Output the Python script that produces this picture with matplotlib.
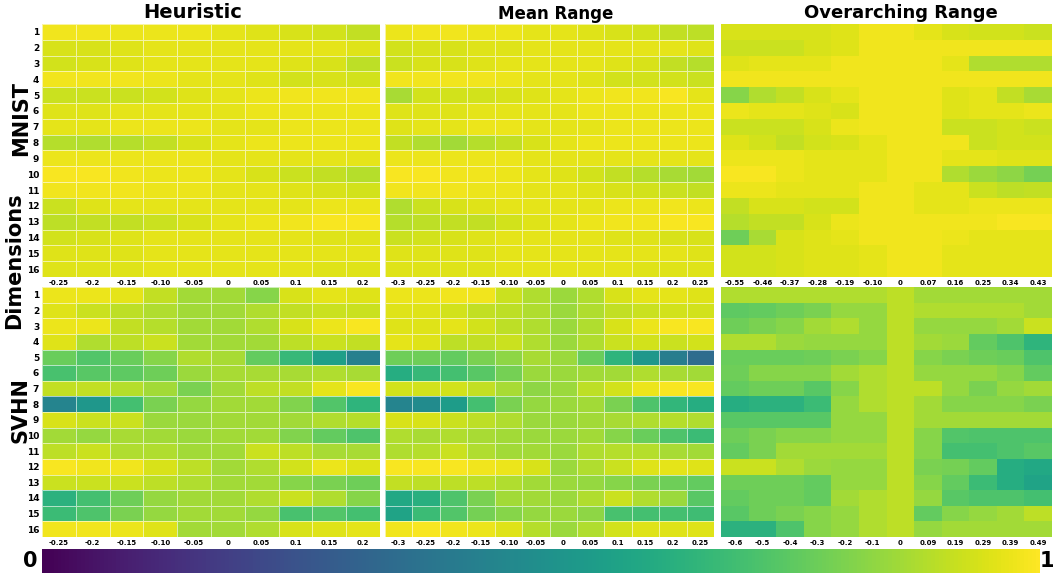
import numpy as np
import matplotlib
matplotlib.use("Agg")
import matplotlib.pyplot as plt

# ==============================
# DATA
# ==============================
dims = [str(i) for i in range(1, 17)]

heur_cols = ["-0.25", "-0.2", "-0.15", "-0.10", "-0.05", "0", "0.05", "0.1", "0.15", "0.2"]
mean_cols = ["-0.3", "-0.25", "-0.2", "-0.15", "-0.10", "-0.05", "0", "0.05", "0.1", "0.15", "0.2", "0.25"]
over_cols_mnist = ["-0.55", "-0.46", "-0.37", "-0.28", "-0.19", "-0.10", "0", "0.07", "0.16", "0.25", "0.34", "0.43"]
over_cols_svhn = ["-0.6", "-0.5", "-0.4", "-0.3", "-0.2", "-0.1", "0", "0.09", "0.19", "0.29", "0.39", "0.49"]

mnist_heuristic = [
    [0.98, 0.98, 0.97, 0.97, 0.97, 0.96, 0.95, 0.94, 0.93, 0.91],
    [0.94, 0.94, 0.95, 0.96, 0.96, 0.96, 0.96, 0.96, 0.96, 0.95],
    [0.93, 0.94, 0.95, 0.96, 0.96, 0.96, 0.96, 0.95, 0.94, 0.90],
    [0.98, 0.98, 0.98, 0.97, 0.96, 0.96, 0.95, 0.93, 0.94, 0.93],
    [0.92, 0.92, 0.92, 0.93, 0.95, 0.96, 0.97, 0.98, 0.98, 0.98],
    [0.95, 0.95, 0.96, 0.96, 0.96, 0.96, 0.97, 0.97, 0.97, 0.97],
    [0.96, 0.96, 0.97, 0.97, 0.97, 0.96, 0.96, 0.97, 0.97, 0.97],
    [0.89, 0.88, 0.89, 0.91, 0.94, 0.96, 0.97, 0.97, 0.97, 0.97],
    [0.97, 0.97, 0.97, 0.97, 0.97, 0.96, 0.96, 0.96, 0.96, 0.96],
    [0.99, 0.99, 0.98, 0.97, 0.97, 0.96, 0.94, 0.92, 0.91, 0.89],
    [0.98, 0.98, 0.98, 0.97, 0.97, 0.96, 0.96, 0.95, 0.94, 0.93],
    [0.92, 0.95, 0.96, 0.96, 0.96, 0.96, 0.96, 0.96, 0.97, 0.97],
    [0.90, 0.91, 0.91, 0.92, 0.94, 0.96, 0.97, 0.98, 0.99, 0.99],
    [0.93, 0.94, 0.95, 0.96, 0.96, 0.96, 0.96, 0.96, 0.95, 0.95],
    [0.95, 0.95, 0.95, 0.96, 0.96, 0.96, 0.96, 0.96, 0.96, 0.96],
    [0.95, 0.95, 0.95, 0.96, 0.96, 0.96, 0.96, 0.96, 0.95, 0.95],
]

mnist_mean = [
    [0.97, 0.98, 0.98, 0.97, 0.97, 0.96, 0.96, 0.95, 0.94, 0.93, 0.91, 0.90],
    [0.93, 0.94, 0.94, 0.95, 0.95, 0.96, 0.96, 0.96, 0.96, 0.96, 0.96, 0.95],
    [0.92, 0.94, 0.94, 0.95, 0.96, 0.96, 0.96, 0.96, 0.95, 0.94, 0.91, 0.89],
    [0.98, 0.98, 0.98, 0.98, 0.97, 0.96, 0.96, 0.95, 0.93, 0.93, 0.93, 0.92],
    [0.87, 0.93, 0.93, 0.93, 0.94, 0.95, 0.96, 0.97, 0.98, 0.98, 0.99, 0.96],
    [0.95, 0.95, 0.95, 0.96, 0.96, 0.96, 0.96, 0.97, 0.97, 0.97, 0.97, 0.97],
    [0.95, 0.96, 0.96, 0.97, 0.97, 0.96, 0.96, 0.96, 0.97, 0.97, 0.97, 0.97],
    [0.91, 0.88, 0.86, 0.89, 0.91, 0.94, 0.96, 0.97, 0.97, 0.97, 0.97, 0.97],
    [0.97, 0.97, 0.97, 0.97, 0.97, 0.96, 0.96, 0.96, 0.96, 0.96, 0.96, 0.96],
    [0.99, 0.99, 0.98, 0.98, 0.97, 0.96, 0.95, 0.93, 0.91, 0.89, 0.87, 0.86],
    [0.98, 0.98, 0.98, 0.97, 0.97, 0.96, 0.96, 0.95, 0.94, 0.93, 0.92, 0.91],
    [0.88, 0.92, 0.94, 0.95, 0.96, 0.96, 0.96, 0.96, 0.97, 0.97, 0.98, 0.97],
    [0.89, 0.90, 0.91, 0.91, 0.93, 0.95, 0.96, 0.97, 0.98, 0.98, 0.99, 0.99],
    [0.92, 0.93, 0.94, 0.95, 0.96, 0.96, 0.96, 0.96, 0.95, 0.95, 0.94, 0.94],
    [0.95, 0.95, 0.95, 0.95, 0.96, 0.96, 0.96, 0.96, 0.96, 0.96, 0.96, 0.95],
    [0.95, 0.95, 0.95, 0.95, 0.96, 0.96, 0.96, 0.96, 0.96, 0.95, 0.95, 0.95],
]

mnist_over = [
    [0.94, 0.94, 0.94, 0.94, 0.95, 0.98, 0.98, 0.96, 0.94, 0.93, 0.93, 0.92],
    [0.92, 0.92, 0.92, 0.94, 0.95, 0.98, 0.98, 0.98, 0.98, 0.98, 0.98, 0.98],
    [0.95, 0.96, 0.96, 0.96, 0.98, 0.98, 0.98, 0.98, 0.96, 0.88, 0.88, 0.88],
    [0.98, 0.98, 0.98, 0.98, 0.98, 0.98, 0.98, 0.98, 0.98, 0.98, 0.98, 0.98],
    [0.82, 0.88, 0.91, 0.94, 0.96, 0.98, 0.98, 0.98, 0.95, 0.96, 0.91, 0.87],
    [0.97, 0.96, 0.96, 0.95, 0.94, 0.98, 0.98, 0.98, 0.95, 0.96, 0.96, 0.97],
    [0.92, 0.92, 0.92, 0.94, 0.97, 0.98, 0.98, 0.98, 0.92, 0.92, 0.93, 0.92],
    [0.95, 0.93, 0.91, 0.93, 0.94, 0.96, 0.98, 0.98, 0.98, 0.92, 0.93, 0.93],
    [0.97, 0.97, 0.97, 0.96, 0.96, 0.96, 0.98, 0.98, 0.96, 0.96, 0.95, 0.95],
    [0.99, 0.99, 0.97, 0.96, 0.96, 0.96, 0.98, 0.98, 0.88, 0.85, 0.83, 0.79],
    [0.97, 0.97, 0.96, 0.96, 0.96, 0.98, 0.98, 0.96, 0.96, 0.92, 0.90, 0.91],
    [0.91, 0.94, 0.94, 0.93, 0.93, 0.98, 0.98, 0.96, 0.96, 0.97, 0.97, 0.97],
    [0.89, 0.91, 0.91, 0.94, 0.97, 0.98, 0.98, 0.98, 0.98, 0.98, 0.99, 0.99],
    [0.78, 0.87, 0.94, 0.95, 0.96, 0.98, 0.98, 0.98, 0.97, 0.96, 0.96, 0.96],
    [0.93, 0.93, 0.94, 0.95, 0.95, 0.96, 0.98, 0.98, 0.96, 0.96, 0.96, 0.96],
    [0.93, 0.93, 0.94, 0.95, 0.95, 0.96, 0.98, 0.98, 0.96, 0.96, 0.96, 0.96],
]

svhn_heuristic = [
    [0.97, 0.97, 0.96, 0.91, 0.86, 0.86, 0.82, 0.94, 0.96, 0.95],
    [0.95, 0.92, 0.90, 0.88, 0.86, 0.86, 0.88, 0.91, 0.92, 0.92],
    [0.97, 0.97, 0.91, 0.89, 0.86, 0.86, 0.88, 0.94, 0.97, 0.99],
    [0.95, 0.88, 0.90, 0.92, 0.86, 0.86, 0.86, 0.90, 0.92, 0.91],
    [0.77, 0.73, 0.77, 0.82, 0.88, 0.87, 0.76, 0.67, 0.56, 0.43],
    [0.71, 0.74, 0.75, 0.78, 0.85, 0.87, 0.87, 0.87, 0.88, 0.87],
    [0.91, 0.91, 0.89, 0.86, 0.80, 0.86, 0.90, 0.91, 0.96, 0.99],
    [0.45, 0.53, 0.70, 0.80, 0.84, 0.86, 0.86, 0.81, 0.73, 0.65],
    [0.94, 0.92, 0.92, 0.85, 0.85, 0.86, 0.86, 0.86, 0.88, 0.89],
    [0.86, 0.84, 0.87, 0.86, 0.85, 0.86, 0.86, 0.81, 0.76, 0.72],
    [0.90, 0.92, 0.88, 0.88, 0.86, 0.86, 0.92, 0.90, 0.87, 0.87],
    [0.99, 0.98, 0.98, 0.94, 0.90, 0.86, 0.88, 0.93, 0.97, 0.95],
    [0.92, 0.92, 0.92, 0.90, 0.88, 0.86, 0.86, 0.82, 0.80, 0.78],
    [0.64, 0.70, 0.78, 0.84, 0.86, 0.86, 0.88, 0.92, 0.88, 0.82],
    [0.68, 0.72, 0.80, 0.84, 0.86, 0.86, 0.84, 0.71, 0.73, 0.70],
    [0.98, 0.98, 0.97, 0.95, 0.86, 0.86, 0.88, 0.94, 0.95, 0.96],
]

svhn_mean = [
    [0.97, 0.97, 0.98, 0.98, 0.92, 0.88, 0.85, 0.88, 0.94, 0.96, 0.96, 0.95],
    [0.95, 0.95, 0.93, 0.91, 0.90, 0.88, 0.85, 0.88, 0.91, 0.92, 0.93, 0.93],
    [0.95, 0.95, 0.96, 0.93, 0.90, 0.88, 0.85, 0.88, 0.94, 0.97, 0.99, 0.99],
    [0.96, 0.95, 0.90, 0.91, 0.92, 0.88, 0.85, 0.88, 0.92, 0.93, 0.92, 0.93],
    [0.78, 0.78, 0.76, 0.80, 0.83, 0.87, 0.85, 0.77, 0.65, 0.53, 0.42, 0.35],
    [0.62, 0.67, 0.70, 0.74, 0.79, 0.85, 0.85, 0.86, 0.86, 0.88, 0.87, 0.86],
    [0.93, 0.93, 0.93, 0.91, 0.87, 0.83, 0.85, 0.90, 0.93, 0.97, 0.99, 0.99],
    [0.45, 0.48, 0.55, 0.70, 0.80, 0.84, 0.85, 0.86, 0.80, 0.72, 0.66, 0.62],
    [0.94, 0.94, 0.92, 0.90, 0.88, 0.85, 0.85, 0.86, 0.87, 0.88, 0.89, 0.88],
    [0.88, 0.87, 0.88, 0.87, 0.86, 0.85, 0.85, 0.86, 0.82, 0.77, 0.72, 0.68],
    [0.88, 0.89, 0.92, 0.88, 0.86, 0.86, 0.85, 0.88, 0.89, 0.89, 0.87, 0.86],
    [0.99, 0.99, 0.99, 0.98, 0.97, 0.94, 0.85, 0.88, 0.92, 0.95, 0.96, 0.95],
    [0.91, 0.90, 0.90, 0.90, 0.88, 0.86, 0.85, 0.84, 0.82, 0.80, 0.78, 0.76],
    [0.60, 0.63, 0.72, 0.80, 0.86, 0.86, 0.85, 0.88, 0.92, 0.88, 0.85, 0.74],
    [0.58, 0.68, 0.73, 0.79, 0.82, 0.84, 0.85, 0.83, 0.71, 0.70, 0.70, 0.69],
    [0.98, 0.99, 0.98, 0.97, 0.95, 0.89, 0.85, 0.88, 0.93, 0.95, 0.95, 0.95],
]

svhn_over = [
    [0.88, 0.88, 0.88, 0.88, 0.88, 0.88, 0.90, 0.86, 0.86, 0.86, 0.86, 0.86],
    [0.75, 0.76, 0.78, 0.80, 0.84, 0.84, 0.90, 0.88, 0.88, 0.88, 0.88, 0.86],
    [0.78, 0.80, 0.82, 0.86, 0.88, 0.84, 0.90, 0.84, 0.84, 0.84, 0.86, 0.92],
    [0.88, 0.88, 0.85, 0.84, 0.84, 0.84, 0.90, 0.86, 0.85, 0.76, 0.72, 0.65],
    [0.77, 0.77, 0.77, 0.78, 0.80, 0.82, 0.90, 0.82, 0.80, 0.78, 0.77, 0.72],
    [0.78, 0.82, 0.82, 0.82, 0.86, 0.88, 0.90, 0.84, 0.84, 0.84, 0.82, 0.76],
    [0.76, 0.78, 0.78, 0.74, 0.82, 0.88, 0.90, 0.90, 0.84, 0.80, 0.84, 0.86],
    [0.62, 0.64, 0.64, 0.68, 0.84, 0.88, 0.90, 0.86, 0.82, 0.82, 0.82, 0.80],
    [0.74, 0.74, 0.74, 0.74, 0.84, 0.84, 0.90, 0.86, 0.86, 0.86, 0.86, 0.86],
    [0.78, 0.80, 0.82, 0.82, 0.84, 0.84, 0.90, 0.82, 0.73, 0.72, 0.72, 0.72],
    [0.76, 0.80, 0.86, 0.86, 0.86, 0.86, 0.90, 0.82, 0.70, 0.70, 0.72, 0.74],
    [0.92, 0.92, 0.88, 0.85, 0.84, 0.84, 0.90, 0.80, 0.79, 0.76, 0.62, 0.60],
    [0.78, 0.78, 0.78, 0.76, 0.84, 0.84, 0.90, 0.82, 0.76, 0.68, 0.62, 0.58],
    [0.76, 0.78, 0.78, 0.76, 0.86, 0.88, 0.90, 0.84, 0.74, 0.72, 0.72, 0.70],
    [0.74, 0.78, 0.80, 0.82, 0.84, 0.88, 0.90, 0.76, 0.82, 0.84, 0.86, 0.90],
    [0.64, 0.64, 0.72, 0.82, 0.84, 0.88, 0.90, 0.84, 0.86, 0.86, 0.86, 0.86],
]

# ==============================
# LAYOUT (pixel boxes)
# ==============================
W, H = 1054, 577
fig = plt.figure(figsize=(W / 100, H / 100), dpi=100)


def px_axes(x0, y0, x1, y1):
    return fig.add_axes([x0 / W, 1 - y1 / H, (x1 - x0) / W, (y1 - y0) / H])


col_x = [(42, 380), (385, 714), (721, 1052)]
row_y = [(24, 277), (287, 537)]

panels = [
    [(mnist_heuristic, heur_cols, True), (mnist_mean, mean_cols, True), (mnist_over, over_cols_mnist, False)],
    [(svhn_heuristic, heur_cols, True), (svhn_mean, mean_cols, True), (svhn_over, over_cols_svhn, False)],
]

cmap = plt.get_cmap("viridis")

for r, row in enumerate(panels):
    for c, (vals, xlabels, grid) in enumerate(row):
        x0, x1 = col_x[c]
        y0, y1 = row_y[r]
        ax = px_axes(x0, y0, x1, y1)
        arr = np.array(vals)
        if grid:
            ax.pcolormesh(arr, cmap=cmap, vmin=0, vmax=1,
                          edgecolors=(1, 1, 1, 0.6), linewidth=0.5)
        else:
            ax.pcolormesh(arr, cmap=cmap, vmin=0, vmax=1)
        ax.set_xlim(0, arr.shape[1])
        ax.set_ylim(arr.shape[0], 0)
        ax.set_xticks(np.arange(arr.shape[1]) + 0.5)
        ax.set_xticklabels(xlabels, fontsize=5, fontweight="bold")
        if c == 0:
            ax.set_yticks(np.arange(arr.shape[0]) + 0.5)
            ax.set_yticklabels(dims, fontsize=6.5, fontweight="bold")
        else:
            ax.set_yticks([])
        ax.tick_params(length=0, pad=2)
        for s in ax.spines.values():
            s.set_visible(False)

# titles
fig.text(193 / W, 1 - 13 / H, "Heuristic", fontsize=14, fontweight="bold", ha="center", va="center")
fig.text(556 / W, 1 - 14 / H, "Mean Range", fontsize=12, fontweight="bold", ha="center", va="center")
fig.text(901 / W, 1 - 13 / H, "Overarching Range", fontsize=13, fontweight="bold", ha="center", va="center")

# side labels
fig.text(21 / W, 1 - 119 / H, "MNIST", fontsize=15, fontweight="bold", rotation=90, ha="center", va="center")
fig.text(14 / W, 1 - 261 / H, "Dimensions", fontsize=15, fontweight="bold", rotation=90, ha="center", va="center")
fig.text(20 / W, 1 - 410 / H, "SVHN", fontsize=15, fontweight="bold", rotation=90, ha="center", va="center")

# colorbar strip
cax = px_axes(42, 549, 1040, 573)
grad = np.linspace(0, 1, 256).reshape(1, -1)
cax.imshow(grad, aspect="auto", cmap=cmap, vmin=0, vmax=1, extent=[0, 1, 0, 1])
cax.set_axis_off()
fig.text(30 / W, 1 - 561 / H, "0", fontsize=15, fontweight="bold", ha="center", va="center")
fig.text(1047 / W, 1 - 561 / H, "1", fontsize=15, fontweight="bold", ha="center", va="center")

fig.savefig("out.png", dpi=100)
